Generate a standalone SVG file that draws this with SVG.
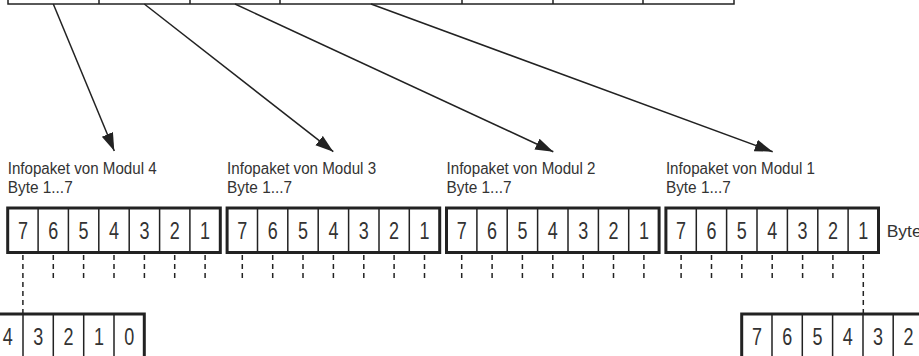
<svg xmlns="http://www.w3.org/2000/svg" width="919" height="356" viewBox="0 0 919 356">
<style>
.thin{fill:none;stroke:#222;stroke-width:1.5}
.thick{fill:#fff;stroke:#222;stroke-width:3}
.dash{fill:none;stroke:#222;stroke-width:1.5;stroke-dasharray:5 4}
.arr{fill:none;stroke:#222;stroke-width:1.5}
.lbl{font-family:"Liberation Sans",Arial,sans-serif;font-size:16px;fill:#333}
.dig{font-family:"Liberation Sans",Arial,sans-serif;font-size:23px;fill:#333;text-anchor:middle}
</style>
<defs>
<marker id="ah" markerUnits="userSpaceOnUse" markerWidth="19" markerHeight="13" refX="18" refY="6" orient="auto">
<path d="M0,0 L18,6 L0,12 Z" fill="#222"/>
</marker>
</defs>
<rect width="919" height="356" fill="#fff"/>

<g id="top-row">
<rect class="thin" x="8" y="-10" width="726" height="14"/>
<path class="thin" d="M99,-10V4M190,-10V4M280,-10V4M462,-10V4M553,-10V4M643,-10V4"/>
</g>

<g id="modul4">
<text class="lbl" x="7.7" y="174" textLength="149" lengthAdjust="spacingAndGlyphs">Infopaket von Modul 4</text>
<text class="lbl" x="7.7" y="192.5" textLength="65" lengthAdjust="spacingAndGlyphs">Byte 1...7</text>
<rect class="thick" x="7.7" y="208" width="212.6" height="44.5"/>
<path class="thin" d="M38.1,208V252.5M68.4,208V252.5M98.8,208V252.5M129.2,208V252.5M159.6,208V252.5M189.9,208V252.5"/>
<text class="dig" x="22.9" y="239" textLength="10" lengthAdjust="spacingAndGlyphs">7</text>
<text class="dig" x="53.3" y="239" textLength="10" lengthAdjust="spacingAndGlyphs">6</text>
<text class="dig" x="83.6" y="239" textLength="10" lengthAdjust="spacingAndGlyphs">5</text>
<text class="dig" x="114.0" y="239" textLength="10" lengthAdjust="spacingAndGlyphs">4</text>
<text class="dig" x="144.4" y="239" textLength="10" lengthAdjust="spacingAndGlyphs">3</text>
<text class="dig" x="174.7" y="239" textLength="10" lengthAdjust="spacingAndGlyphs">2</text>
<text class="dig" x="205.1" y="239" textLength="10" lengthAdjust="spacingAndGlyphs">1</text>
</g>

<g id="modul3">
<text class="lbl" x="227.1" y="174" textLength="149" lengthAdjust="spacingAndGlyphs">Infopaket von Modul 3</text>
<text class="lbl" x="227.1" y="192.5" textLength="65" lengthAdjust="spacingAndGlyphs">Byte 1...7</text>
<rect class="thick" x="227.1" y="208" width="212.6" height="44.5"/>
<path class="thin" d="M257.5,208V252.5M287.8,208V252.5M318.2,208V252.5M348.6,208V252.5M379,208V252.5M409.3,208V252.5"/>
<text class="dig" x="242.3" y="239" textLength="10" lengthAdjust="spacingAndGlyphs">7</text>
<text class="dig" x="272.7" y="239" textLength="10" lengthAdjust="spacingAndGlyphs">6</text>
<text class="dig" x="303.0" y="239" textLength="10" lengthAdjust="spacingAndGlyphs">5</text>
<text class="dig" x="333.4" y="239" textLength="10" lengthAdjust="spacingAndGlyphs">4</text>
<text class="dig" x="363.8" y="239" textLength="10" lengthAdjust="spacingAndGlyphs">3</text>
<text class="dig" x="394.1" y="239" textLength="10" lengthAdjust="spacingAndGlyphs">2</text>
<text class="dig" x="424.5" y="239" textLength="10" lengthAdjust="spacingAndGlyphs">1</text>
</g>

<g id="modul2">
<text class="lbl" x="446.5" y="174" textLength="149" lengthAdjust="spacingAndGlyphs">Infopaket von Modul 2</text>
<text class="lbl" x="446.5" y="192.5" textLength="65" lengthAdjust="spacingAndGlyphs">Byte 1...7</text>
<rect class="thick" x="446.5" y="208" width="212.6" height="44.5"/>
<path class="thin" d="M476.9,208V252.5M507.2,208V252.5M537.6,208V252.5M568,208V252.5M598.4,208V252.5M628.7,208V252.5"/>
<text class="dig" x="461.7" y="239" textLength="10" lengthAdjust="spacingAndGlyphs">7</text>
<text class="dig" x="492.1" y="239" textLength="10" lengthAdjust="spacingAndGlyphs">6</text>
<text class="dig" x="522.4" y="239" textLength="10" lengthAdjust="spacingAndGlyphs">5</text>
<text class="dig" x="552.8" y="239" textLength="10" lengthAdjust="spacingAndGlyphs">4</text>
<text class="dig" x="583.2" y="239" textLength="10" lengthAdjust="spacingAndGlyphs">3</text>
<text class="dig" x="613.5" y="239" textLength="10" lengthAdjust="spacingAndGlyphs">2</text>
<text class="dig" x="643.9" y="239" textLength="10" lengthAdjust="spacingAndGlyphs">1</text>
</g>

<g id="modul1">
<text class="lbl" x="665.9" y="174" textLength="149" lengthAdjust="spacingAndGlyphs">Infopaket von Modul 1</text>
<text class="lbl" x="665.9" y="192.5" textLength="65" lengthAdjust="spacingAndGlyphs">Byte 1...7</text>
<rect class="thick" x="665.9" y="208" width="212.6" height="44.5"/>
<path class="thin" d="M696.3,208V252.5M726.6,208V252.5M757,208V252.5M787.4,208V252.5M817.8,208V252.5M848.1,208V252.5"/>
<text class="dig" x="681.1" y="239" textLength="10" lengthAdjust="spacingAndGlyphs">7</text>
<text class="dig" x="711.5" y="239" textLength="10" lengthAdjust="spacingAndGlyphs">6</text>
<text class="dig" x="741.8" y="239" textLength="10" lengthAdjust="spacingAndGlyphs">5</text>
<text class="dig" x="772.2" y="239" textLength="10" lengthAdjust="spacingAndGlyphs">4</text>
<text class="dig" x="802.6" y="239" textLength="10" lengthAdjust="spacingAndGlyphs">3</text>
<text class="dig" x="832.9" y="239" textLength="10" lengthAdjust="spacingAndGlyphs">2</text>
<text class="dig" x="863.3" y="239" textLength="10" lengthAdjust="spacingAndGlyphs">1</text>
<text class="lbl" x="886.7" y="236.5" textLength="35" lengthAdjust="spacingAndGlyphs">Byte</text>
</g>

<g id="bottom-left">
<rect class="thick" x="-30" y="314" width="174.3" height="60"/>
<path class="thin" d="M23,314V360M53.3,314V360M83.7,314V360M114,314V360"/>
<text class="dig" x="7.8" y="345" textLength="10" lengthAdjust="spacingAndGlyphs">4</text>
<text class="dig" x="38.2" y="345" textLength="10" lengthAdjust="spacingAndGlyphs">3</text>
<text class="dig" x="68.5" y="345" textLength="10" lengthAdjust="spacingAndGlyphs">2</text>
<text class="dig" x="98.9" y="345" textLength="10" lengthAdjust="spacingAndGlyphs">1</text>
<text class="dig" x="129.2" y="345" textLength="10" lengthAdjust="spacingAndGlyphs">0</text>
</g>

<g id="bottom-right">
<rect class="thick" x="741.7" y="314" width="260" height="60"/>
<path class="thin" d="M772,314V360M802.3,314V360M832.6,314V360M863,314V360M893.2,314V360"/>
<text class="dig" x="756.9" y="345" textLength="10" lengthAdjust="spacingAndGlyphs">7</text>
<text class="dig" x="787.2" y="345" textLength="10" lengthAdjust="spacingAndGlyphs">6</text>
<text class="dig" x="817.5" y="345" textLength="10" lengthAdjust="spacingAndGlyphs">5</text>
<text class="dig" x="847.8" y="345" textLength="10" lengthAdjust="spacingAndGlyphs">4</text>
<text class="dig" x="878.1" y="345" textLength="10" lengthAdjust="spacingAndGlyphs">3</text>
<text class="dig" x="908.4" y="345" textLength="10" lengthAdjust="spacingAndGlyphs">2</text>
</g>

<g id="connectors">
<line class="arr" x1="53.3" y1="4" x2="114.3" y2="151" marker-end="url(#ah)"/>
<line class="arr" x1="144.3" y1="4" x2="333.3" y2="151.7" marker-end="url(#ah)"/>
<line class="arr" x1="235" y1="4" x2="553.3" y2="151.7" marker-end="url(#ah)"/>
<line class="arr" x1="371" y1="4" x2="772.7" y2="151.7" marker-end="url(#ah)"/>
<path class="dash" d="M22.9,255V314M53.3,255V281M83.6,255V281M114,255V281M144.4,255V281M174.7,255V281M205.1,255V281"/>
<path class="dash" d="M242.3,255V281M272.7,255V281M303,255V281M333.4,255V281M363.8,255V281M394.1,255V281M424.5,255V281"/>
<path class="dash" d="M461.7,255V281M492.1,255V281M522.4,255V281M552.8,255V281M583.2,255V281M613.5,255V281M643.9,255V281"/>
<path class="dash" d="M681.1,255V281M711.5,255V281M741.8,255V281M772.2,255V281M802.6,255V281M832.9,255V281M863.3,255V314"/>
</g>
</svg>
